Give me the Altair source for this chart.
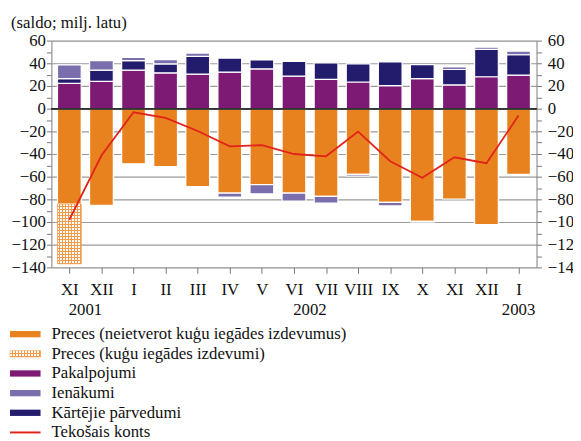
import altair as alt
import pandas as pd

# ---------------- data ----------------
months = ["XI", "XII", "I", "II", "III", "IV", "V", "VI", "VII", "VIII", "IX", "X", "XI", "XII", "I"]
years = ["2001", "2002", "2003"]
year_pos = [0.5, 7.5, 14.0]

goods = [-84.0, -85.2, -48.7, -51.0, -68.7, -74.5, -67.0, -74.5, -77.4, -58.0, -82.6, -99.4, -79.7, -102.3, -58.0]
ships = [-52.8, 0.0, 0.0, 0.0, 0.0, 0.0, 0.0, 0.0, 0.0, 0.0, 0.0, 0.0, 0.0, 0.0, 0.0]
services = [22.3, 24.0, 33.9, 31.6, 30.4, 32.2, 35.1, 28.7, 25.8, 23.5, 20.3, 26.4, 20.9, 28.1, 29.6]
income = [12.2, 8.4, 2.9, 3.8, 2.9, -3.5, -8.1, -7.0, -5.8, -1.4, -3.2, -0.6, 2.3, 2.0, 3.2]
transfers = [4.1, 9.9, 8.4, 7.8, 15.7, 12.4, 7.8, 13.0, 14.5, 15.9, 20.9, 12.4, 13.6, 24.1, 17.9]
current = [-98.0, -41.4, -3.2, -8.1, -19.7, -33.3, -32.2, -40.0, -42.0, -20.3, -46.4, -60.9, -42.9, -48.1, -6.1]

names = [
    "Preces (neietverot kuģu iegādes izdevumus)",
    "Preces (kuģu iegādes izdevumi)",
    "Pakalpojumi",
    "Ienākumi",
    "Kārtējie pārvedumi",
    "Tekošais konts",
]
subtitle = "(saldo; milj. latu)"

C_GOODS = "#E8821E"
C_HATCH = "#F29A4A"
C_SERV = "#7D1B74"
C_INC = "#7A6EAD"
C_TRANS = "#231B6C"
C_LINE = "#E2231A"
FONT = "'Liberation Serif', 'Times New Roman', 'DejaVu Serif', serif"

# ---------------- stacking ----------------
order = [(goods, names[0]), (services, names[2]), (transfers, names[4]), (income, names[3]), (ships, names[1])]
rows = []
for i in range(len(months)):
    pos, neg = 0.0, 0.0
    for series, nm in order:
        v = series[i]
        if v == 0:
            continue
        if v > 0:
            y0, y1 = pos, pos + v
            pos = y1
        else:
            y0, y1 = neg, neg + v
            neg = y1
        rows.append({"idx": i, "series": nm, "y0": y0, "y1": y1})
bars_df = pd.DataFrame(rows)
solid_df = bars_df[bars_df["series"] != names[1]]
hatch_df = bars_df[bars_df["series"] == names[1]]
line_df = pd.DataFrame({"idx": list(range(len(months))), "cur": current})
year_df = pd.DataFrame({"year": years, "pos": year_pos})
legend_df = pd.DataFrame({"label": names, "row": list(range(len(names)))})


def stripes(n, along_x, bg, fg, frac=0.34):
    stops = []
    for k in range(n):
        a = k / n
        b = (k + 1 - frac) / n
        c = (k + 1) / n
        stops += [alt.GradientStop(offset=round(a, 4), color=bg),
                  alt.GradientStop(offset=round(b, 4), color=bg),
                  alt.GradientStop(offset=round(b, 4), color=fg),
                  alt.GradientStop(offset=round(c, 4), color=fg)]
    if along_x:
        return alt.LinearGradient(gradient="linear", stops=stops, x1=0, x2=1, y1=0, y2=0)
    return alt.LinearGradient(gradient="linear", stops=stops, x1=0, x2=0, y1=0, y2=1)


xscale = alt.Scale(domain=[-0.56, 14.56], nice=False, zero=False)
yscale = alt.Scale(domain=[-140, 60], nice=False, zero=False)
half = 0.37

roman_expr = "[" + ",".join("'%s'" % m for m in months) + "][datum.value]"
x_axis = alt.Axis(values=list(range(len(months))), labelExpr=roman_expr, title=None, grid=False,
                  tickSize=6, tickColor="#777", domain=False, labelFont=FONT, labelFontSize=17,
                  labelColor="#111", labelPadding=9)
y_ticks = list(range(-140, 61, 10))
y_axis_left = alt.Axis(values=y_ticks, labelExpr="datum.value % 20 === 0 ? datum.label : ''", title=None,
                       tickSize=5, tickColor="#777", domainColor="#8c8c8c", labelFont=FONT, labelFontSize=17,
                       labelColor="#111", labelPadding=1,
                       grid=True, gridColor="#9a9a9a", gridWidth=1.2,
                       gridOpacity={"condition": {"test": "datum.value % 20 === 0", "value": 1}, "value": 0})
y_axis_right = alt.Axis(values=y_ticks, labelExpr="datum.value % 20 === 0 ? datum.label : ''", title=None,
                        orient="right", tickSize=5, tickColor="#777", domainColor="#8c8c8c", labelFont=FONT,
                        labelFontSize=17, labelColor="#111", labelPadding=6, grid=False)

X_L = alt.X("xl:Q", scale=xscale, axis=x_axis)
Y_0 = alt.Y("y0:Q", scale=yscale, axis=y_axis_left)

bars = alt.Chart(solid_df).transform_calculate(
    xl=f"datum.idx - {half}", xr=f"datum.idx + {half}"
).mark_rect(stroke="white", strokeWidth=1.2).encode(
    x=X_L, x2="xr:Q", y=Y_0, y2="y1:Q",
    fill=alt.Fill("series:N", scale=alt.Scale(domain=[names[0], names[2], names[3], names[4]],
                                              range=[C_GOODS, C_SERV, C_INC, C_TRANS]), legend=None),
)

hatch_base = alt.Chart(hatch_df).transform_calculate(
    xl=f"datum.idx - {half}", xr=f"datum.idx + {half}"
)
hatch_h = hatch_base.mark_rect(fill=stripes(20, False, "#ffffff", C_HATCH)).encode(
    x=X_L, x2="xr:Q", y=Y_0, y2="y1:Q")
hatch_v = hatch_base.mark_rect(fill=stripes(8, True, "rgba(255,255,255,0)", C_HATCH),
                               stroke=C_HATCH, strokeWidth=0.8).encode(
    x=X_L, x2="xr:Q", y=Y_0, y2="y1:Q")

zero = alt.Chart(line_df).transform_calculate(y0="0").mark_rule(color="#333333", strokeWidth=1).encode(
    y=Y_0
)

line = alt.Chart(line_df).transform_calculate(xl="datum.idx", y0="datum.cur").mark_line(
    color=C_LINE, strokeWidth=1.8).encode(x=X_L, y=Y_0)

year_text = alt.Chart(year_df).transform_calculate(xl="datum.pos").mark_text(
    font=FONT, fontSize=17, color="#111", baseline="middle").encode(
    x=X_L, y=alt.value(273), text="year:N",
)

sub_text = alt.Chart(pd.DataFrame({"t": [subtitle]})).mark_text(
    font=FONT, fontSize=17, color="#111", align="left", baseline="middle"
).encode(x=alt.value(-41), y=alt.value(-18), text="t:N")

main = alt.layer(bars, hatch_h, hatch_v, zero, line, year_text, sub_text)

right = alt.Chart(line_df).transform_calculate(xl="datum.idx").mark_line(opacity=0).encode(
    x=X_L,
    y=alt.Y("cur:Q", scale=yscale, axis=y_axis_right),
)

# ---------------- legend ----------------
lscale = alt.Scale(domain=[0, 5], range=[297.7, 397.4], nice=False, zero=False)
leg_base = alt.Chart(legend_df).transform_calculate(r0="datum.row - 0.16", r1="datum.row + 0.16")
LY = alt.Y("r0:Q", scale=lscale, axis=None)
leg_solid = leg_base.transform_filter("datum.row != 1 && datum.row != 5").mark_rect().encode(
    x=alt.value(-42), x2=alt.value(-11), y=LY, y2="r1:Q",
    fill=alt.Fill("label:N", scale=alt.Scale(domain=[names[0], names[2], names[3], names[4]],
                                             range=[C_GOODS, C_SERV, C_INC, C_TRANS]), legend=None),
)
leg_hatch_h = leg_base.transform_filter("datum.row == 1").mark_rect(
    fill=stripes(2, False, "#ffffff", C_HATCH)).encode(
    x=alt.value(-42), x2=alt.value(-11), y=LY, y2="r1:Q")
leg_hatch_v = leg_base.transform_filter("datum.row == 1").mark_rect(
    fill=stripes(10, True, "rgba(255,255,255,0)", C_HATCH), stroke=C_HATCH, strokeWidth=0.6).encode(
    x=alt.value(-42), x2=alt.value(-11), y=LY, y2="r1:Q")
leg_line = leg_base.transform_filter("datum.row == 5").transform_calculate(r0="datum.row").mark_rule(
    color=C_LINE, strokeWidth=2).encode(x=alt.value(-42), x2=alt.value(-11), y=LY)
leg_text = leg_base.transform_calculate(r0="datum.row").mark_text(
    font=FONT, fontSize=17, color="#111", align="left", baseline="middle").encode(
    x=alt.value(0), y=LY, text="label:N")
legend = alt.layer(leg_solid, leg_hatch_h, leg_hatch_v, leg_line, leg_text)

chart = alt.layer(main, right, legend).resolve_scale(y="independent").properties(
    width=492, height=230,
    autosize=alt.AutoSizeParams(type="none"),
    padding={"left": 44, "top": 30, "right": 37, "bottom": 173},
).configure_view(stroke="#8c8c8c", strokeWidth=1).configure(background="white")

chart.save("out.html", embed_options={"renderer": "svg", "actions": False})
